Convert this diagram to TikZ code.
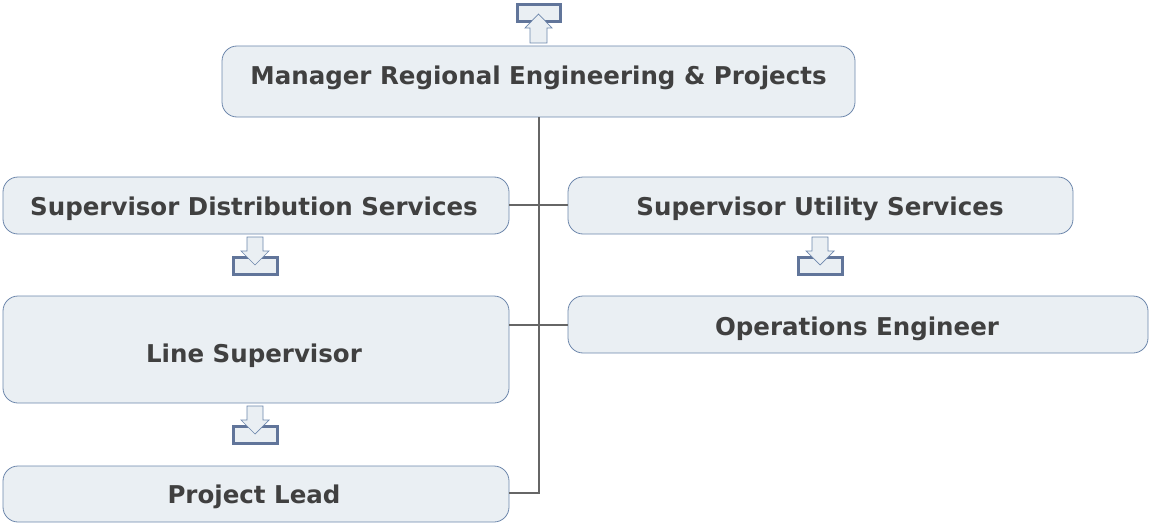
\documentclass[tikz,border=0pt]{standalone}
\usepackage{fontspec}
\setmainfont{DejaVu Sans}
\definecolor{boxfill}{HTML}{EAEFF3}
\definecolor{boxline}{HTML}{6D87AC}
\definecolor{icon}{HTML}{61759A}
\definecolor{txt}{HTML}{404040}
\definecolor{conn}{HTML}{666666}
\tikzset{
  x=1pt,y=-1pt,
  orgbox/.style={draw=boxline,fill=boxfill,rounded corners=15pt,line width=0.8pt},
  lbl/.style={font=\fontsize{24.5}{28}\selectfont\bfseries,text=txt},
  link/.style={draw=conn,line width=1.2pt},
}
\newcommand{\downicon}[2]{%
  \draw[icon,line width=3pt,fill=boxfill] (#1-22,#2+20) rectangle (#1+22,#2+37);
  \draw[boxline,fill=boxfill,line width=0.7pt] (#1-8,#2) -- (#1+8,#2) -- (#1+8,#2+14) -- (#1+14,#2+14) -- (#1,#2+28) -- (#1-14,#2+14) -- (#1-8,#2+14) -- cycle;
}
\begin{document}
\begin{tikzpicture}
\useasboundingbox (0,0) rectangle (1149,527);
% top icon
\draw[icon,line width=3pt,fill=boxfill] (517,5) rectangle (560,22);
\draw[boxline,fill=boxfill,line width=0.7pt] (530,43) -- (547,43) -- (547,28) -- (552,28) -- (538.5,14) -- (525,28) -- (530,28) -- cycle;
% boxes
\draw[orgbox] (222,46) rectangle (855,117);
\node[lbl] (mgr) at (538.5,78) {Manager Regional Engineering \& Projects};
\coordinate (mgrb) at (539,117);
\draw[orgbox] (3,177) rectangle (509,234);
\node[lbl] (sds) at (254,209) {Supervisor Distribution Services};
\draw[orgbox] (568,177) rectangle (1073,234);
\node[lbl] (sus) at (820,209) {Supervisor Utility Services};
\draw[orgbox] (3,296) rectangle (509,403);
\node[lbl] (ls) at (254,356) {Line Supervisor};
\draw[orgbox] (568,296) rectangle (1148,353);
\node[lbl] (oe) at (857,329) {Operations Engineer};
\draw[orgbox] (3,466) rectangle (509,522);
\node[lbl] (pl) at (254,497) {Project Lead};
% connectors
\coordinate (spine) at (539,493);
\coordinate (sdsR) at (509,205);
\coordinate (susL) at (568,205);
\coordinate (lsR) at (509,325);
\coordinate (oeL) at (568,325);
\coordinate (plR) at (509,493);
\draw[link] (mgrb) -- (spine) -- (plR);
\draw[link] (sdsR) -- (susL);
\draw[link] (lsR) -- (oeL);
% down icons
\downicon{255}{237}
\downicon{820}{237}
\downicon{255}{406}
\end{tikzpicture}
\end{document}
